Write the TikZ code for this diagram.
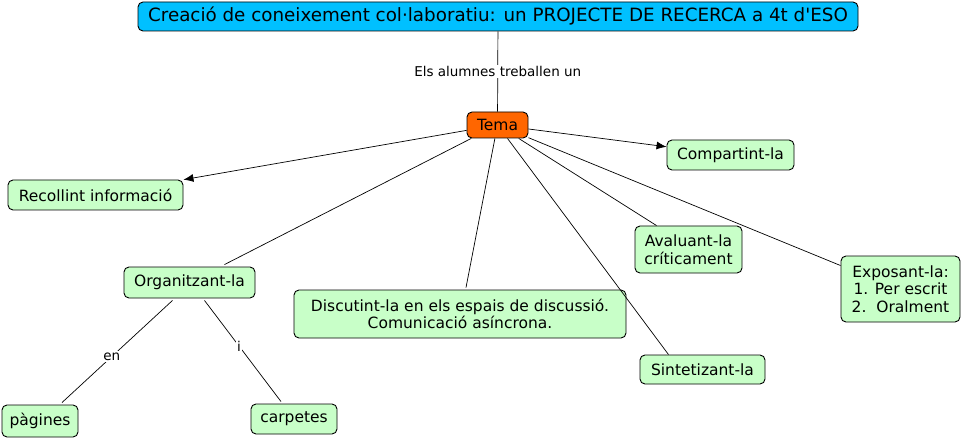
\documentclass[tikz,border=0pt]{standalone}
\usepackage{fontspec}
\newfontfamily\dvs{DejaVu Sans}
\usetikzlibrary{arrows.meta}
\definecolor{titlecol}{RGB}{0,192,255}
\definecolor{temacol}{RGB}{255,102,0}
\definecolor{conccol}{RGB}{200,255,200}
\begin{document}
\begin{tikzpicture}[x=1pt,y=-1pt,
  concept/.style={draw=black,line width=0.9pt,rounded corners=5pt,fill=conccol,inner sep=0pt,align=center,font=\dvs\fontsize{15.5}{17.5}\selectfont},
  link/.style={draw=black,line width=0.7pt},
  lbl/.style={fill=white,inner sep=1.5pt,font=\dvs\fontsize{13.5}{15}\selectfont},
  arr/.style={link,-{Latex[length=10pt,width=8pt]}}]
\useasboundingbox (0,0) rectangle (962,441);
\node[concept,fill=titlecol,minimum width=720pt,minimum height=29pt,font=\dvs\fontsize{18.3}{20}\selectfont] (title) at (498,16.5) {Creació de coneixement col·laboratiu: un PROJECTE DE RECERCA a 4t d'ESO};
\node[concept,fill=temacol,minimum width=61pt,minimum height=26pt] (tema) at (497.5,125) {Tema};
\node[concept,minimum width=127pt,minimum height=30pt] (comp) at (730.5,155) {Compartint-la};
\node[concept,minimum width=175pt,minimum height=30pt] (rec) at (95.5,195) {Recollint informació};
\node[concept,minimum width=131pt,minimum height=31pt] (org) at (189.5,282.5) {Organitzant-la};
\node[concept,minimum width=332pt,minimum height=48pt] (disc) at (460,314) {Discutint-la en els espais de discussió.\\Comunicació asíncrona.};
\node[concept,minimum width=107pt,minimum height=47pt] (aval) at (688.5,249.5) {Avaluant-la\\críticament};
\node[concept,minimum width=119pt,minimum height=66pt] (expo) at (900.5,289) {Exposant-la:\\1. Per escrit\\2.\ \ Oralment};
\node[concept,minimum width=125pt,minimum height=29pt] (sint) at (702.5,369.5) {Sintetizant-la};
\node[concept,minimum width=76pt,minimum height=32pt] (pag) at (40,421) {pàgines};
\node[concept,minimum width=86pt,minimum height=30pt] (carp) at (294,419) {carpetes};
\draw[link] (title) -- (tema) node[lbl,pos=0.5] (l1) {Els alumnes treballen un};
\draw[arr] (tema) -- (comp);
\draw[arr] (tema) -- (rec);
\draw[link] (tema) -- ([xshift=35pt,yshift=2pt]org.north);
\draw[link] (tema) -- ([xshift=6pt,yshift=2pt]disc.north);
\draw[link] (tema) -- ([xshift=-32pt]aval.north);
\draw[link] (tema) -- ([yshift=-10pt]expo.north west);
\draw[link] (tema) -- ([xshift=-34pt]sint.north);
\draw[link] ([xshift=-17pt,yshift=-2pt]org.south) -- ([xshift=22pt,yshift=2pt]pag.north) node[lbl,pos=0.55] (l2) {en};
\draw[link] ([xshift=15pt,yshift=-2pt]org.south) -- ([xshift=-13pt,yshift=2pt]carp.north) node[lbl,pos=0.45] (l3) {i};
\end{tikzpicture}
\end{document}
